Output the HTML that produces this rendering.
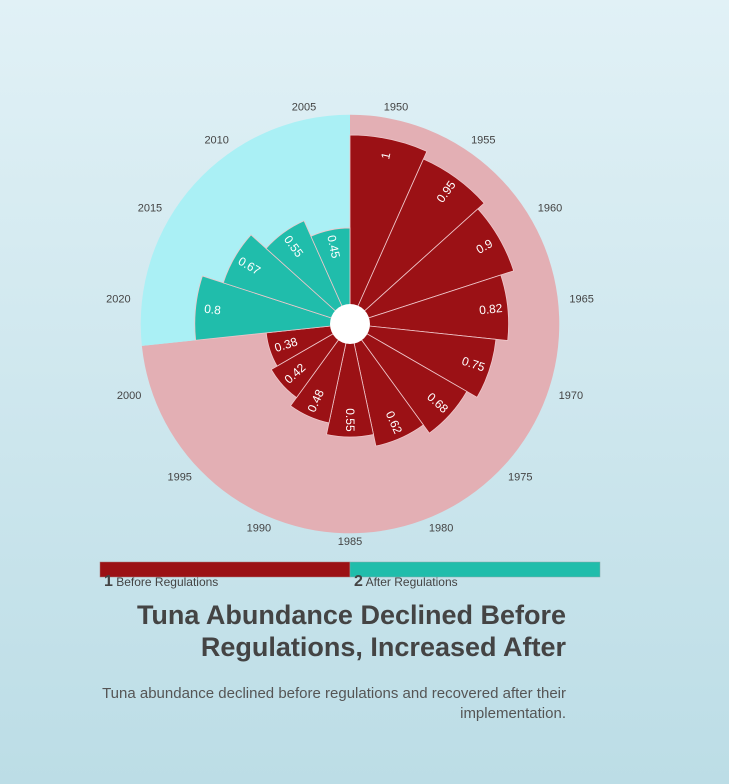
<!DOCTYPE html>
<html><head><meta charset="utf-8"><style>
body{margin:0;width:729px;height:784px;overflow:hidden;background:linear-gradient(180deg,#e1f1f6 0%,#bcdde6 100%);font-family:"Liberation Sans",sans-serif}
svg{position:absolute;left:0;top:0}
</style></head><body>
<svg id="chart" width="729" height="784" viewBox="0 0 729 784">
<g id="bg"></g><g id="bars"></g><g id="labels"></g>
<circle cx="350" cy="324" r="20" fill="#fff"/>
<g>
<rect x="100" y="562" width="250" height="15" fill="#9b1115" stroke="#aa7777" stroke-width="0.5"/>
<rect x="350" y="562" width="250" height="15" fill="#20bdab" stroke="#88aaaa" stroke-width="0.5"/>
<text x="104" y="586" font-size="12" fill="#444"><tspan font-size="16" font-weight="bold">1</tspan> Before Regulations</text>
<text x="354" y="586" font-size="12" fill="#444"><tspan font-size="16" font-weight="bold">2</tspan> After Regulations</text>
</g>
<text x="566" y="624" text-anchor="end" font-size="27" font-weight="bold" fill="#444">Tuna Abundance Declined Before</text>
<text x="566" y="656" text-anchor="end" font-size="27" font-weight="bold" fill="#444">Regulations, Increased After</text>
<text x="566" y="698" text-anchor="end" font-size="15" fill="#555">Tuna abundance declined before regulations and recovered after their</text>
<text x="566" y="718" text-anchor="end" font-size="15" fill="#555">implementation.</text>
</svg>
<script>
const categories=["1950","1955","1960","1965","1970","1975","1980","1985","1990","1995","2000","2020","2015","2010","2005"];
const values=[1,0.95,0.9,0.82,0.75,0.68,0.62,0.55,0.48,0.42,0.38,0.8,0.67,0.55,0.45];
const groups=[1,1,1,1,1,1,1,1,1,1,1,2,2,2,2];
const bgMax=1.12;
const cx=350,cy=324,r0=20,k=169,step=360/categories.length;
const NS="http://www.w3.org/2000/svg";
function rad(v){return r0+k*v;}
function pt(r,a){const t=a*Math.PI/180;return [cx+r*Math.sin(t),cy-r*Math.cos(t)];}
function sector(a1,a2,r){const p1=pt(r,a1),p2=pt(r,a2);const large=(a2-a1)>180?1:0;
return `M${cx},${cy}L${p1[0]},${p1[1]}A${r},${r} 0 ${large} 1 ${p2[0]},${p2[1]}Z`;}
function mk(tag,attrs,parent){const e=document.createElementNS(NS,tag);for(const a in attrs)e.setAttribute(a,attrs[a]);parent.appendChild(e);return e;}
const bg=document.getElementById('bg'),bars=document.getElementById('bars'),labels=document.getElementById('labels');
const nBefore=groups.filter(g=>g===1).length;
const b1=mk('path',{d:sector(0,nBefore*step,rad(bgMax)),fill:'#e3afb4'},bg);


const b2=mk('path',{d:sector(nBefore*step,360,rad(bgMax)),fill:'#aaf0f5'},bg);


categories.forEach((c,i)=>{
 const a1=i*step,a2=(i+1)*step,mid=a1+step/2,r=rad(values[i]);
 const p=mk('path',{d:sector(a1,a2,r),fill:groups[i]===1?'#9b1115':'#20bdab',stroke:'#f0c8cc','stroke-width':0.8},bars);
 
 
 const lp=pt(r-17,mid);
 const rot=mid>180?mid-270:mid-90;
 const t=mk('text',{x:lp[0],y:lp[1],'text-anchor':'middle','dominant-baseline':'central','font-size':12,fill:'#fff',transform:`rotate(${rot} ${lp[0]} ${lp[1]})`},labels);
 t.textContent=String(values[i]);
 
 
 const s=Math.abs(Math.sin(mid*Math.PI/180));
 const cp=pt(218+15*s,mid);
 const ct=mk('text',{x:cp[0],y:cp[1],'text-anchor':'middle','dominant-baseline':'central','font-size':11,fill:'#444'},labels);
 ct.textContent=c;
 
 
});
</script>
</body></html>
